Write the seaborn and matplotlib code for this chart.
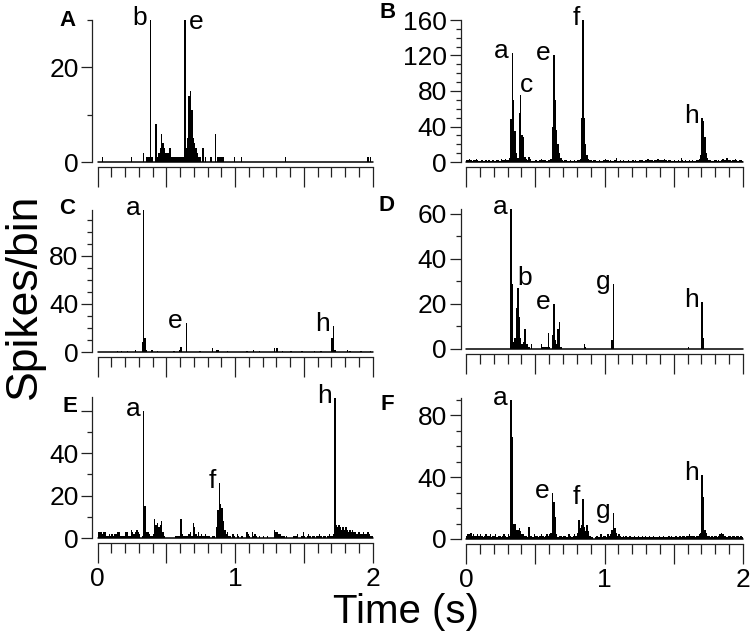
import numpy as np
import pandas as pd
import matplotlib
matplotlib.use("Agg")
import matplotlib.pyplot as plt
from matplotlib.ticker import MultipleLocator, FixedLocator, FixedFormatter, FuncFormatter
import seaborn as sns

# PSTHs, 10 ms bins over 2 s (200 bins)
n_bins = 200
bin_width = 0.01

# panel A: sparse (bin index, spikes)
spikes_A = [(3, 1), (24, 1), (33, 2), (35, 1), (36, 1), (37, 1), (38, 30), (39, 1),
            (42, 8), (43, 1), (44, 2), (45, 3), (46, 6), (47, 4), (48, 3), (49, 2),
            (50, 2), (51, 2), (52, 3), (53, 1), (54, 1), (55, 1), (56, 1), (57, 1),
            (58, 1), (59, 1), (60, 1), (61, 1), (62, 1), (63, 30), (64, 3), (65, 5),
            (66, 14), (67, 15), (68, 11), (69, 5), (70, 4), (71, 3), (72, 2), (73, 1),
            (74, 1), (76, 3), (78, 1), (82, 1), (85, 6), (87, 1), (88, 1), (89, 1),
            (90, 1), (91, 1), (99, 1), (104, 1), (136, 1), (196, 1), (198, 1)]

counts_B = [2, 2, 3, 2, 1, 2, 2, 3, 2, 1,
            1, 2, 1, 1, 2, 1, 2, 1, 1, 2,
            1, 1, 2, 2, 1, 3, 2, 2, 3, 2,
            2, 5, 48, 123, 70, 35, 10, 5, 55, 75,
            30, 28, 6, 3, 2, 6, 3, 1, 1, 1,
            2, 1, 1, 2, 3, 2, 2, 2, 1, 2,
            2, 3, 40, 120, 70, 36, 20, 10, 4, 2,
            1, 2, 2, 1, 1, 2, 1, 1, 2, 1,
            2, 2, 3, 50, 160, 50, 20, 8, 3, 2,
            2, 1, 2, 2, 1, 1, 2, 1, 1, 2,
            3, 2, 2, 1, 2, 1, 1, 2, 4, 1,
            1, 2, 1, 2, 1, 1, 1, 2, 1, 1,
            2, 1, 2, 1, 1, 2, 2, 2, 1, 2,
            2, 3, 2, 2, 2, 1, 2, 2, 3, 2,
            2, 2, 2, 3, 2, 1, 2, 2, 1, 1,
            2, 1, 1, 2, 1, 4, 2, 1, 2, 1,
            1, 2, 1, 2, 1, 1, 2, 2, 3, 8,
            50, 46, 28, 10, 4, 2, 2, 1, 1, 2,
            2, 1, 2, 1, 2, 3, 2, 2, 4, 2,
            2, 1, 2, 2, 3, 2, 1, 2, 2, 1]

spikes_C = [(14, 1), (17, 1), (21, 1), (27, 2), (32, 8), (33, 118), (34, 12), (35, 2),
            (39, 2), (43, 1), (55, 1), (59, 2), (60, 4), (64, 24), (74, 1), (83, 3),
            (86, 2), (87, 2), (94, 1), (108, 1), (113, 2), (117, 1), (128, 3), (130, 3),
            (134, 1), (140, 1), (148, 1), (157, 1), (162, 1), (170, 12), (171, 22),
            (172, 2), (181, 2), (183, 1), (191, 1), (198, 1)]

spikes_D = [(32, 62), (33, 29), (34, 3), (35, 5), (36, 18), (37, 27), (38, 14), (39, 5),
            (40, 2), (41, 3), (42, 9), (43, 2), (44, 2), (45, 1), (47, 2), (54, 2),
            (55, 1), (56, 1), (57, 1), (58, 1), (59, 7), (60, 1), (62, 6), (63, 20),
            (64, 4), (65, 2), (66, 9), (67, 12), (68, 1), (85, 2), (86, 1), (105, 4),
            (106, 29), (160, 1), (170, 21), (171, 5)]

counts_E = [3, 3, 3, 2, 3, 3, 1, 1, 2, 1,
            2, 1, 2, 2, 3, 3, 1, 1, 1, 1,
            3, 3, 1, 1, 4, 3, 2, 3, 4, 3,
            2, 0, 1, 60, 15, 3, 3, 2, 1, 1,
            2, 9, 6, 7, 5, 6, 8, 3, 1, 0,
            0, 0, 0, 0, 0, 0, 1, 1, 1, 1,
            9, 2, 1, 1, 1, 1, 2, 3, 1, 7,
            5, 2, 1, 3, 1, 2, 1, 1, 2, 1,
            1, 1, 0, 1, 1, 0, 5, 13, 26, 16,
            14, 8, 4, 2, 3, 1, 1, 0, 2, 1,
            0, 2, 1, 0, 1, 1, 0, 0, 3, 2,
            1, 0, 3, 1, 2, 1, 0, 1, 0, 0,
            1, 0, 0, 1, 0, 0, 0, 0, 4, 3,
            3, 2, 2, 1, 1, 1, 0, 1, 0, 0,
            0, 0, 1, 1, 1, 2, 0, 0, 1, 3,
            1, 0, 1, 2, 1, 0, 1, 1, 0, 1,
            1, 2, 1, 0, 1, 1, 0, 1, 2, 1,
            1, 2, 66, 6, 5, 6, 5, 4, 5, 4,
            5, 4, 3, 4, 3, 4, 3, 3, 2, 3,
            3, 2, 2, 3, 2, 2, 3, 2, 1, 1]

counts_F = [2, 3, 3, 4, 2, 3, 2, 2, 3, 2,
            3, 2, 1, 2, 3, 2, 2, 3, 1, 2,
            2, 3, 1, 2, 2, 1, 2, 3, 2, 1,
            3, 2, 90, 66, 10, 10, 6, 6, 7, 5,
            3, 3, 2, 2, 1, 8, 2, 2, 1, 3,
            2, 2, 1, 2, 3, 2, 1, 2, 3, 2,
            3, 4, 30, 24, 14, 3, 1, 2, 2, 1,
            2, 2, 1, 1, 3, 2, 1, 2, 3, 2,
            4, 12, 7, 9, 26, 8, 5, 9, 5, 2,
            1, 1, 0, 1, 2, 1, 1, 3, 1, 2,
            2, 1, 3, 2, 3, 6, 17, 7, 4, 2,
            3, 2, 1, 2, 1, 2, 1, 1, 2, 1,
            1, 2, 1, 1, 2, 1, 1, 2, 1, 2,
            1, 1, 2, 1, 1, 2, 1, 1, 1, 2,
            1, 1, 2, 1, 1, 1, 2, 1, 2, 1,
            1, 2, 1, 1, 2, 1, 2, 2, 1, 2,
            2, 3, 2, 2, 2, 1, 2, 2, 3, 4,
            41, 27, 6, 4, 2, 2, 1, 2, 1, 2,
            2, 1, 2, 3, 4, 3, 2, 2, 1, 2,
            2, 1, 2, 2, 1, 2, 2, 1, 2, 1]

# peak letters: (letter, bin index, placement)
peaks_A = [("b", 38, "left"), ("e", 63, "right")]
peaks_B = [("a", 33, "left"), ("c", 39, "above"), ("e", 63, "left"), ("f", 84, "left"), ("h", 170, "left")]
peaks_C = [("a", 33, "left"), ("e", 64, "left"), ("h", 171, "left")]
peaks_D = [("a", 32, "left"), ("b", 37, "above"), ("e", 63, "left"), ("g", 106, "left"), ("h", 170, "left")]
peaks_E = [("a", 33, "left"), ("f", 88, "left"), ("h", 172, "left")]
peaks_F = [("a", 32, "left"), ("e", 62, "left"), ("f", 84, "left"), ("g", 106, "left"), ("h", 170, "left")]

# y ranges and labelled ticks
ytop = {"A": 30, "B": 160, "C": 118, "D": 62, "E": 66.5, "F": 91}
yticks = {"A": [0, 20], "B": [0, 40, 80, 120, 160], "C": [0, 40, 80],
          "D": [0, 20, 40, 60], "E": [0, 20, 40, 60], "F": [0, 40, 80]}
ytick_labels = {"A": ["0", "20"], "B": ["0", "40", "80", "120", "160"], "C": ["0", "40", "80"],
                "D": ["0", "20", "40", "60"], "E": ["0", "20", "40", ""], "F": ["0", "40", "80"]}


def sparse_to_counts(pairs):
    c = np.zeros(n_bins)
    for i, v in pairs:
        c[i] = v
    return c


counts = {"A": sparse_to_counts(spikes_A), "B": np.array(counts_B, float),
          "C": sparse_to_counts(spikes_C), "D": sparse_to_counts(spikes_D),
          "E": np.array(counts_E, float), "F": np.array(counts_F, float)}
peaks = {"A": peaks_A, "B": peaks_B, "C": peaks_C, "D": peaks_D, "E": peaks_E, "F": peaks_F}

sns.set_theme(style="ticks", rc={"text.color": "black", "xtick.color": "#222222",
                                 "ytick.color": "#222222", "axes.labelcolor": "black"})
plt.rcParams["font.family"] = ["Liberation Sans", "DejaVu Sans"]
plt.rcParams["axes.linewidth"] = 0.9

W, H = 756, 642
fig = plt.figure(figsize=(W / 100, H / 100), dpi=100)

# pixel layout: left x, width, zero line y, top y
layout = {"A": (97.7, 275, 162, 20), "B": (466, 277, 162, 20),
          "C": (97.7, 275, 352, 210), "D": (466, 277, 349, 209),
          "E": (97.7, 275, 538, 397), "F": (466, 277, 539, 398)}
letter_pos = {"A": (67, 21), "B": (388, 13), "C": (67, 208), "D": (387, 206),
              "E": (70, 407), "F": (387, 405)}

centers = (np.arange(n_bins) + 0.5) * bin_width

for key in "ABCDEF":
    x0, w, y0, yt = layout[key]
    ax = fig.add_axes([x0 / W, (H - y0) / H, w / W, (y0 - yt) / H])
    df = pd.DataFrame({"t": centers, "n": counts[key]})
    sns.histplot(data=df, x="t", weights="n", bins=n_bins, binrange=(0, 2), element="bars",
                 fill=True, color="black", alpha=1, linewidth=0, ax=ax)
    ax.axhline(0, color="black", lw=1.1, clip_on=False)
    ax.set_xlim(0, 2)
    ax.set_ylim(0, ytop[key])
    ax.set(xlabel="", ylabel="")
    sns.despine(ax=ax, offset=3.8)
    for s in ["left", "bottom"]:
        ax.spines[s].set_color("#222222")
        ax.spines[s].set_linewidth(0.9)

    ax.xaxis.set_major_locator(MultipleLocator(0.5))
    ax.xaxis.set_minor_locator(MultipleLocator(0.1))
    ax.tick_params(axis="x", which="major", length=14.4, width=0.9,
                   direction="out", pad=3, labelsize=19, labelcolor="black")
    ax.tick_params(axis="x", which="minor", length=7.2, width=0.9, direction="out")
    if key in "EF":
        ax.xaxis.set_major_formatter(FuncFormatter(lambda v, p: f"{v:.0f}" if v == int(v) else ""))
    else:
        ax.tick_params(axis="x", which="major", labelbottom=False)

    ax.yaxis.set_major_locator(FixedLocator(yticks[key]))
    ax.yaxis.set_major_formatter(FixedFormatter(ytick_labels[key]))
    ax.yaxis.set_minor_locator(MultipleLocator(10))
    ax.tick_params(axis="y", which="major", length=8, width=0.9,
                   direction="out", pad=2, labelsize=19, labelcolor="black")
    ax.tick_params(axis="y", which="minor", length=3.6, width=0.9, direction="out")

    for letter, b, place in peaks[key]:
        h = min(counts[key][b], ytop[key])
        t = centers[b]
        if place == "left":
            xy, ha = (-2.5, -3.6), "right"
        elif place == "right":
            xy, ha = (3.0, -6.5), "left"
        else:
            xy, ha = (-0.5, 2.5), "left"
        ax.annotate(letter, xy=(t, h), xytext=xy, textcoords="offset points",
                    ha=ha, va="baseline", fontsize=19, color="black")

    lx, ly = letter_pos[key]
    fig.text(lx / W, 1 - ly / H, key, ha="center", va="center",
             fontsize=16, fontweight="bold", color="black")

fig.text(24 / W, 1 - 296 / H, "Spikes/bin", rotation=90, ha="center", va="center",
         fontsize=32, color="black")
fig.text(406 / W, 1 - 623 / H, "Time (s)", ha="center", va="baseline", fontsize=29, color="black")

fig.savefig("out.png", dpi=100)
